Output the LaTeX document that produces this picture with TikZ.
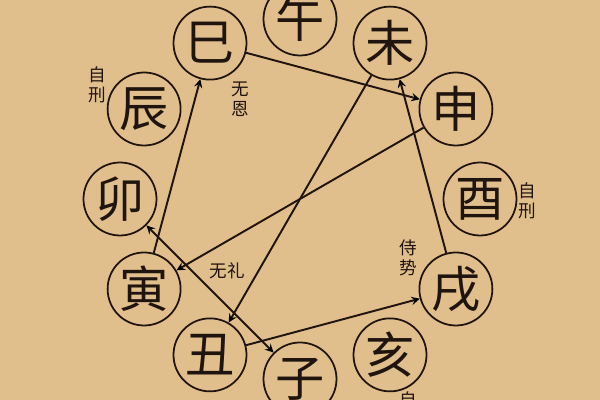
\documentclass[tikz,border=0pt]{standalone}
\usepackage{fontspec}
\newfontfamily\cjk{Noto Sans CJK SC}
\definecolor{paper}{RGB}{224,191,140}
\definecolor{ink}{RGB}{32,20,14}

\begin{document}
\begin{tikzpicture}[
        branch/.style={circle,draw=ink,line width=1pt,minimum size=1.46cm,inner sep=0pt,
          text=ink,font=\cjk\fontsize{28}{28}\selectfont},
        note/.style={text=ink,font=\cjk\fontsize{10}{11.5}\selectfont,align=center,inner sep=0pt},
        link/.style={draw=ink,line width=1.1pt}]
        \clip (0,0) rectangle (12,8);
        \fill[paper] (0,0) rectangle (12,8);
        \begin{scope}[shift={(6cm,4.02cm)}]
        \node[branch] (wu) at (90:3.6cm) {午};
        \node[branch] (wei) at (60:3.6cm) {未};
        \node[branch] (shen) at (30:3.6cm) {申};
        \node[branch] (you) at (0:3.6cm) {酉};
        \node[branch] (xu) at (-30:3.6cm) {戌};
        \node[branch] (hai) at (-60:3.6cm) {亥};
        \node[branch] (zi) at (-90:3.6cm) {子};
        \node[branch] (chou) at (-120:3.6cm) {丑};
        \node[branch] (yin) at (-150:3.6cm) {寅};
        \node[branch] (mao) at (180:3.6cm) {卯};
        \node[branch] (chen) at (150:3.6cm) {辰};
        \node[branch] (si) at (120:3.6cm) {巳};
        \end{scope}
        \node[note] (chenself) at (1.94cm,6.30cm) {自\\刑};
        \node[note] (wuen) at (4.80cm,6.02cm) {无\\恩};
        \node[note] (youself) at (10.54cm,3.98cm) {自\\刑};
        \node[note] (shishi) at (8.16cm,2.84cm) {侍\\势};
        \node[note] (wuli) at (4.54cm,2.58cm) {无礼};
        \node[note,anchor=north] (haiself) at (8.16cm,0.17cm) {自\\刑};
        \path[link,-stealth] (yin) edge (si)
        (si) edge (shen)
        (shen) edge (yin)
        (wei) edge (chou)
        (chou) edge (xu)
        (xu) edge (wei)
        (mao) edge[stealth-stealth] (zi);
    \end{tikzpicture}
\end{document}
